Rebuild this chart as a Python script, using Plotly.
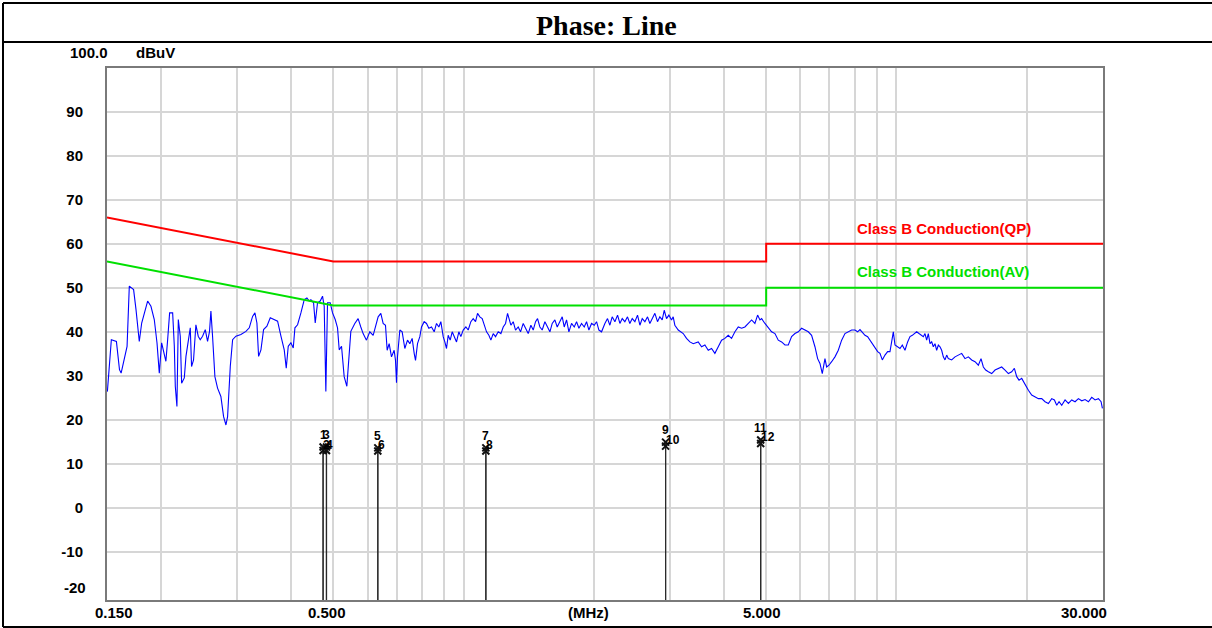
import math
import plotly.graph_objects as go

# ---------------------------------------------------------------------------
# Canvas / plot-area geometry (pixels)
# ---------------------------------------------------------------------------
W, H = 1212, 628
ML, MR, MT, MB = 107, 109, 68, 28
PW, PH = W - ML - MR, H - MT - MB


def px_x(px):
    return (px - ML) / PW


def px_y(py):
    return (H - MB - py) / PH


def lg(f):
    # annotations on a log axis are positioned in log10 units
    return math.log10(f)


F_MIN, F_MAX = 0.15, 30.0
Y_MIN, Y_MAX = -21.0, 100.0

# ---------------------------------------------------------------------------
# Limit lines (EN 55032 Class B conducted)
# ---------------------------------------------------------------------------
qp_limit_freq = [0.15, 0.5, 5.0, 5.0, 30.0]
qp_limit_level = [66, 56, 56, 60, 60]
av_limit_freq = [0.15, 0.5, 5.0, 5.0, 30.0]
av_limit_level = [56, 46, 46, 50, 50]

# ---------------------------------------------------------------------------
# Peak scan, Line phase: (MHz, dBuV)
# ---------------------------------------------------------------------------
scan_low = [
    (0.1503, 26.4), (0.1535, 38.2), (0.1577, 37.8), (0.1603, 31.4), (0.1617, 30.6),
    (0.1645, 33.6), (0.1669, 36.7), (0.1689, 50.4), (0.1728, 49.6), (0.1750, 45.1),
    (0.1781, 37.8), (0.1804, 42.0), (0.1829, 44.3), (0.1862, 47.0), (0.1895, 45.8),
    (0.1929, 42.8), (0.1957, 37.5), (0.1981, 30.6), (0.2006, 37.5), (0.2027, 35.2),
    (0.2052, 33.3), (0.2071, 38.2), (0.2093, 44.3), (0.2127, 44.3), (0.2146, 36.7),
    (0.2157, 27.6), (0.2176, 23.0), (0.2192, 42.8), (0.2215, 39.0), (0.2231, 28.3),
    (0.2263, 29.5), (0.2283, 34.4), (0.2303, 36.7), (0.2336, 40.9), (0.2352, 32.1),
    (0.2377, 33.6), (0.2407, 41.6), (0.2437, 39.0), (0.2463, 38.2), (0.2494, 39.0),
    (0.2530, 40.5), (0.2561, 37.8), (0.2588, 40.1), (0.2607, 44.7), (0.2630, 39.0),
    (0.2663, 29.8), (0.2701, 27.2), (0.2749, 25.3), (0.2789, 20.7), (0.2824, 18.8),
    (0.2849, 20.7), (0.2890, 32.1), (0.2926, 38.2), (0.2978, 39.0), (0.3058, 39.4),
    (0.3141, 40.1), (0.3197, 40.9), (0.3254, 43.5), (0.3295, 44.3), (0.3330, 42.0),
    (0.3360, 34.4), (0.3402, 35.9), (0.3450, 40.5), (0.3512, 41.3), (0.3575, 43.2),
    (0.3652, 42.8), (0.3717, 42.4), (0.3784, 39.0), (0.3851, 35.9), (0.3892, 31.7),
    (0.3934, 36.7), (0.3990, 37.5), (0.4040, 36.3), (0.4076, 40.9), (0.4134, 41.6),
    (0.4208, 44.3), (0.4284, 47.3), (0.4345, 47.7), (0.4399, 47.0), (0.4438, 47.3),
    (0.4501, 46.6), (0.4541, 42.0), (0.4597, 46.6), (0.4663, 47.0), (0.4721, 48.1),
    (0.4763, 45.8), (0.4805, 26.4), (0.4848, 46.6), (0.4918, 46.6), (0.4979, 44.3),
    (0.5050, 42.8), (0.5113, 40.9), (0.5159, 35.9), (0.5223, 36.7), (0.5297, 29.8),
    (0.5373, 27.6), (0.5420, 32.1), (0.5488, 40.1),
]

scan_mid = [
    (0.5605, 41.9), (0.5705, 43.0), (0.5787, 41.1), (0.5859, 39.6), (0.5964, 38.1),
    (0.6071, 40.0), (0.6180, 39.2), (0.6257, 41.1), (0.6346, 43.4), (0.6437, 44.2),
    (0.6517, 41.9), (0.6599, 41.5), (0.6658, 35.8), (0.6729, 37.3), (0.6813, 34.3),
    (0.6910, 35.8), (0.6960, 33.5), (0.6997, 28.4), (0.7034, 34.3), (0.7122, 40.4),
    (0.7211, 40.0), (0.7314, 36.2), (0.7419, 38.1), (0.7511, 37.3), (0.7605, 38.5),
    (0.7687, 35.1), (0.7742, 33.5), (0.7825, 37.3), (0.7922, 38.9), (0.7993, 41.1),
    (0.8107, 42.3), (0.8208, 41.9), (0.8311, 40.8), (0.8430, 41.1), (0.8550, 40.0),
    (0.8657, 41.9), (0.8765, 41.1), (0.8859, 42.3), (0.8970, 38.9), (0.9049, 37.7),
    (0.9130, 36.2), (0.9211, 39.2), (0.9310, 38.1), (0.9410, 40.0), (0.9511, 38.9),
    (0.9629, 37.7), (0.9749, 40.0), (0.9854, 38.9), (0.9977, 40.4), (1.0120, 41.1),
    (1.0246, 40.4), (1.0392, 42.3), (1.0522, 43.0), (1.0654, 42.3), (1.0768, 44.2),
    (1.0902, 43.4), (1.1038, 43.0), (1.1157, 41.5), (1.1296, 40.0), (1.1437, 39.2),
    (1.1560, 38.1), (1.1704, 39.6), (1.1851, 38.9), (1.2020, 40.0), (1.2192, 39.6),
    (1.2344, 41.1), (1.2499, 41.9), (1.2632, 44.2), (1.2745, 43.0), (1.2858, 41.5),
    (1.3018, 42.3), (1.3181, 40.4), (1.3369, 41.1), (1.3536, 40.0), (1.3729, 41.9),
    (1.3901, 40.8), (1.4100, 39.6), (1.4302, 41.5), (1.4480, 40.4), (1.4661, 42.3),
    (1.4818, 43.0), (1.5003, 41.1), (1.5190, 40.4), (1.5408, 42.3), (1.5628, 41.1),
    (1.5823, 40.0), (1.6020, 41.9), (1.6249, 42.7), (1.6452, 41.1), (1.6688, 42.3),
    (1.6896, 43.4), (1.7077, 41.1), (1.7290, 42.7), (1.7506, 40.0), (1.7756, 41.9),
    (1.8010, 41.1), (1.8235, 42.3), (1.8463, 40.8), (1.8726, 41.9), (1.8994, 41.1),
    (1.9231, 42.3), (1.9471, 40.4), (1.9750, 41.9), (2.0032, 41.5), (2.0282, 42.3),
    (2.0536, 40.4), (2.0829, 40.0),
]

scan_upper = [
    (2.120, 41.9), (2.150, 43.0), (2.177, 41.5), (2.204, 43.4), (2.236, 42.3),
    (2.268, 43.8), (2.296, 41.9), (2.325, 43.0), (2.358, 42.3), (2.391, 43.4),
    (2.421, 41.9), (2.452, 43.0), (2.487, 42.3), (2.522, 43.8), (2.554, 41.5),
    (2.586, 43.0), (2.623, 42.3), (2.660, 43.4), (2.693, 41.9), (2.727, 43.0),
    (2.766, 44.2), (2.805, 42.3), (2.840, 43.4), (2.876, 42.7), (2.907, 44.9),
    (2.943, 43.0), (2.980, 43.8), (3.022, 42.7), (3.049, 43.4), (3.076, 41.5),
    (3.132, 40.4), (3.216, 39.6), (3.273, 38.5), (3.332, 37.7), (3.392, 37.3),
    (3.483, 37.7), (3.546, 36.6), (3.609, 37.0), (3.674, 35.8), (3.739, 36.2),
    (3.806, 35.1), (3.875, 36.6), (3.944, 38.1), (4.014, 38.5), (4.086, 39.2),
    (4.159, 38.5), (4.234, 40.0), (4.310, 41.1), (4.387, 40.8), (4.465, 41.1),
    (4.545, 41.9), (4.627, 42.7), (4.709, 41.9), (4.777, 43.8), (4.837, 42.7),
    (4.880, 43.0), (4.967, 41.9), (5.056, 40.8), (5.146, 40.0), (5.239, 39.6),
    (5.332, 38.1), (5.428, 37.7), (5.525, 37.0), (5.624, 37.0), (5.724, 38.9),
    (5.827, 39.6), (5.931, 40.0), (6.037, 40.8), (6.145, 40.4), (6.255, 40.0),
    (6.367, 39.2), (6.481, 36.6), (6.574, 33.9), (6.656, 32.8), (6.739, 30.5),
    (6.836, 33.9), (6.897, 32.0), (6.983, 32.4), (7.083, 33.2), (7.209, 34.3),
    (7.338, 35.8), (7.470, 38.1), (7.603, 39.6), (7.739, 40.0), (7.878, 40.4),
]

scan_high = [
    (8.018, 40.4), (8.133, 40.0), (8.235, 40.5), (8.337, 39.8), (8.457, 39.2),
    (8.578, 38.9), (8.685, 38.1), (8.793, 37.3), (8.919, 36.6), (9.046, 35.5),
    (9.159, 35.1), (9.274, 33.6), (9.406, 34.7), (9.541, 35.5), (9.660, 35.5),
    (9.746, 37.7), (9.834, 40.0), (9.920, 37.0), (10.062, 36.6), (10.188, 36.2),
    (10.315, 37.0), (10.463, 35.8), (10.612, 37.7), (10.745, 38.9), (10.879, 39.2),
    (10.996, 39.6), (11.133, 40.0), (11.272, 39.6), (11.433, 39.2), (11.535, 38.9),
    (11.638, 39.6), (11.741, 38.1), (11.846, 39.6), (11.952, 37.3), (12.060, 37.7),
    (12.165, 36.6), (12.274, 37.3), (12.383, 35.8), (12.494, 37.0), (12.605, 36.6),
    (12.717, 35.8), (12.830, 34.3), (12.946, 33.6), (13.061, 34.7), (13.177, 33.9),
    (13.412, 33.6), (13.653, 34.3), (13.897, 34.7), (14.146, 35.1), (14.399, 33.9),
    (14.657, 34.3), (14.919, 33.6), (15.186, 33.2), (15.458, 32.4), (15.679, 33.9),
    (15.875, 32.0), (16.073, 31.3), (16.303, 30.9), (16.595, 30.5), (16.892, 31.3),
    (17.194, 31.7), (17.502, 32.0), (17.815, 31.3), (18.134, 30.5), (18.459, 30.9),
    (18.723, 31.7), (18.957, 29.8), (19.194, 29.0), (19.468, 29.4), (19.817, 27.9),
    (20.171, 26.7), (20.532, 25.6), (20.900, 25.2), (21.274, 24.8), (21.655, 24.8),
    (22.042, 24.1), (22.437, 23.7), (22.838, 24.8), (23.165, 24.5), (23.454, 23.3),
    (23.747, 24.1), (24.087, 23.3), (24.518, 24.5), (24.957, 23.7), (25.402, 24.5),
    (25.858, 24.1), (26.320, 24.8), (26.792, 24.3), (27.271, 24.6), (27.759, 24.1),
    (28.256, 25.1), (28.762, 24.5), (29.277, 24.8), (29.695, 24.1), (29.907, 22.6),
]

# ---------------------------------------------------------------------------
# Final measurement markers
# ---------------------------------------------------------------------------
marker_no = [1, 2, 3, 4, 5, 6, 7, 8, 9, 10, 11, 12]
marker_freq = [0.4735, 0.4735, 0.4821, 0.4821, 0.6335, 0.6335,
               1.1255, 1.1255, 2.928, 2.928, 4.856, 4.856]
marker_level = [13.8, 13.0, 13.8, 13.0, 13.6, 12.9,
                13.6, 12.9, 14.9, 14.0, 15.4, 14.6]

# Axis labelling
y_tick_vals = [-10, 0, 10, 20, 30, 40, 50, 60, 70, 80, 90]
y_tick_text = ["-10", "0", "10", "20", "30", "40", "50", "60", "70", "80", "90"]
x_grid_vals = [0.2, 0.3, 0.4, 0.5, 0.6, 0.7, 0.8, 0.9, 1, 2, 3, 4, 5, 6, 7, 8, 9, 10, 20]
x_label_vals = [0.15, 0.5, 5.0, 30.0]
x_label_text = ["0.150", "0.500", "5.000", "30.000"]
x_label_shift = [7, -6, -4, -19]
x_unit_freq = 1.94

# ---------------------------------------------------------------------------
scan = scan_low + scan_mid + scan_upper + scan_high
scan_freq = [p[0] for p in scan]
scan_level = [p[1] for p in scan]

fig = go.Figure()

fig.add_trace(go.Scatter(
    x=scan_freq, y=scan_level, mode="lines",
    line=dict(color="#0000ff", width=1.1), hoverinfo="skip", showlegend=False))

fig.add_trace(go.Scatter(
    x=qp_limit_freq, y=qp_limit_level, mode="lines",
    line=dict(color="#ff0000", width=2), hoverinfo="skip", showlegend=False))
fig.add_trace(go.Scatter(
    x=av_limit_freq, y=av_limit_level, mode="lines",
    line=dict(color="#00e000", width=2), hoverinfo="skip", showlegend=False))

# marker stems from the bottom of the scale up to each marker
stem_x, stem_y = [], []
for f, v in zip(marker_freq, marker_level):
    stem_x += [f, f, None]
    stem_y += [Y_MIN, v, None]
fig.add_trace(go.Scatter(
    x=stem_x, y=stem_y, mode="lines",
    line=dict(color="#2a2a2a", width=1.2), hoverinfo="skip", showlegend=False))
fig.add_trace(go.Scatter(
    x=marker_freq, y=marker_level, mode="markers",
    marker=dict(symbol="x-thin", size=7, line=dict(color="#111111", width=2)),
    hoverinfo="skip", showlegend=False))

annotations = []
for n, f, v in zip(marker_no, marker_freq, marker_level):
    odd = n % 2 == 1
    annotations.append(dict(
        x=lg(f), y=v, xref="x", yref="y", text=str(n), showarrow=False,
        xanchor="center" if odd else "left",
        xshift=0 if odd else -2, yshift=12 if odd else 6,
        font=dict(family="Arial", size=12, color="#000000", weight="bold")))

# limit labels
annotations.append(dict(
    x=lg(8.02), y=63.6, xref="x", yref="y", xanchor="left", yanchor="middle",
    text="Class B Conduction(QP)", showarrow=False,
    font=dict(family="Arial", size=15, color="#ff0000", weight="bold")))
annotations.append(dict(
    x=lg(8.02), y=53.8, xref="x", yref="y", xanchor="left", yanchor="middle",
    text="Class B Conduction(AV)", showarrow=False,
    font=dict(family="Arial", size=15, color="#00e000", weight="bold")))

# x-axis labels
for v, t, s in zip(x_label_vals, x_label_text, x_label_shift):
    annotations.append(dict(
        x=lg(v), y=0, xref="x", yref="paper", xanchor="center", yanchor="middle",
        xshift=s, yshift=-12, text=t, showarrow=False,
        font=dict(family="Arial", size=15, color="#000000", weight="bold")))
annotations.append(dict(
    x=lg(x_unit_freq), y=0, xref="x", yref="paper", xanchor="center",
    yanchor="middle", yshift=-12, text="(MHz)", showarrow=False,
    font=dict(family="Arial", size=15, color="#000000", weight="bold")))

# y-axis extras: bottom label, top value and unit
annotations.append(dict(
    x=0, y=-20, xref="paper", yref="y", xanchor="right", yanchor="middle",
    xshift=-19, yshift=8, text="-20", showarrow=False,
    font=dict(family="Arial", size=15, color="#000000", weight="bold")))
annotations.append(dict(
    x=px_x(68), y=px_y(53), xref="paper", yref="paper", xanchor="left",
    yanchor="middle", text="100.0", showarrow=False,
    font=dict(family="Arial", size=15, color="#000000", weight="bold")))
annotations.append(dict(
    x=px_x(134), y=px_y(53), xref="paper", yref="paper", xanchor="left",
    yanchor="middle", text="dBuV", showarrow=False,
    font=dict(family="Arial", size=15, color="#000000", weight="bold")))

# title cell
annotations.append(dict(
    x=0.5 * (px_x(3) + px_x(1209)), y=px_y(25), xref="paper", yref="paper",
    xanchor="center", yanchor="middle", text="Phase: Line", showarrow=False,
    font=dict(family="Times New Roman", size=28, color="#000000", weight="bold")))

# table borders round the figure
border = dict(color="#000000", width=2)
shapes = [
    dict(type="line", xref="paper", yref="paper",
         x0=px_x(3), x1=px_x(1212), y0=px_y(3), y1=px_y(3), line=border),
    dict(type="line", xref="paper", yref="paper",
         x0=px_x(3), x1=px_x(1212), y0=px_y(42), y1=px_y(42), line=border),
    dict(type="line", xref="paper", yref="paper",
         x0=px_x(3), x1=px_x(1212), y0=px_y(627), y1=px_y(627), line=border),
    dict(type="line", xref="paper", yref="paper",
         x0=px_x(3), x1=px_x(3), y0=px_y(3), y1=px_y(627), line=border),
]

fig.update_layout(
    width=W, height=H,
    margin=dict(l=ML, r=MR, t=MT, b=MB, pad=0),
    paper_bgcolor="#ffffff", plot_bgcolor="#ffffff",
    showlegend=False,
    annotations=annotations,
    shapes=shapes,
    xaxis=dict(
        type="log", range=[lg(F_MIN), lg(F_MAX)],
        tickmode="array", tickvals=x_grid_vals, showticklabels=False, ticks="",
        showgrid=True, gridcolor="#d6d6d6", gridwidth=1.6,
        showline=True, linecolor="#7a7a7a", linewidth=2, mirror=True,
        zeroline=False, fixedrange=True),
    yaxis=dict(
        range=[Y_MIN, Y_MAX],
        tickmode="array", tickvals=y_tick_vals, ticktext=y_tick_text,
        ticks="", ticklabelstandoff=19,
        tickfont=dict(family="Arial", size=15, color="#000000", weight="bold"),
        showgrid=True, gridcolor="#d6d6d6", gridwidth=1.6,
        showline=True, linecolor="#7a7a7a", linewidth=2, mirror=True,
        zeroline=False, fixedrange=True),
)

fig.write_html("out.html", config={"displayModeBar": False})
